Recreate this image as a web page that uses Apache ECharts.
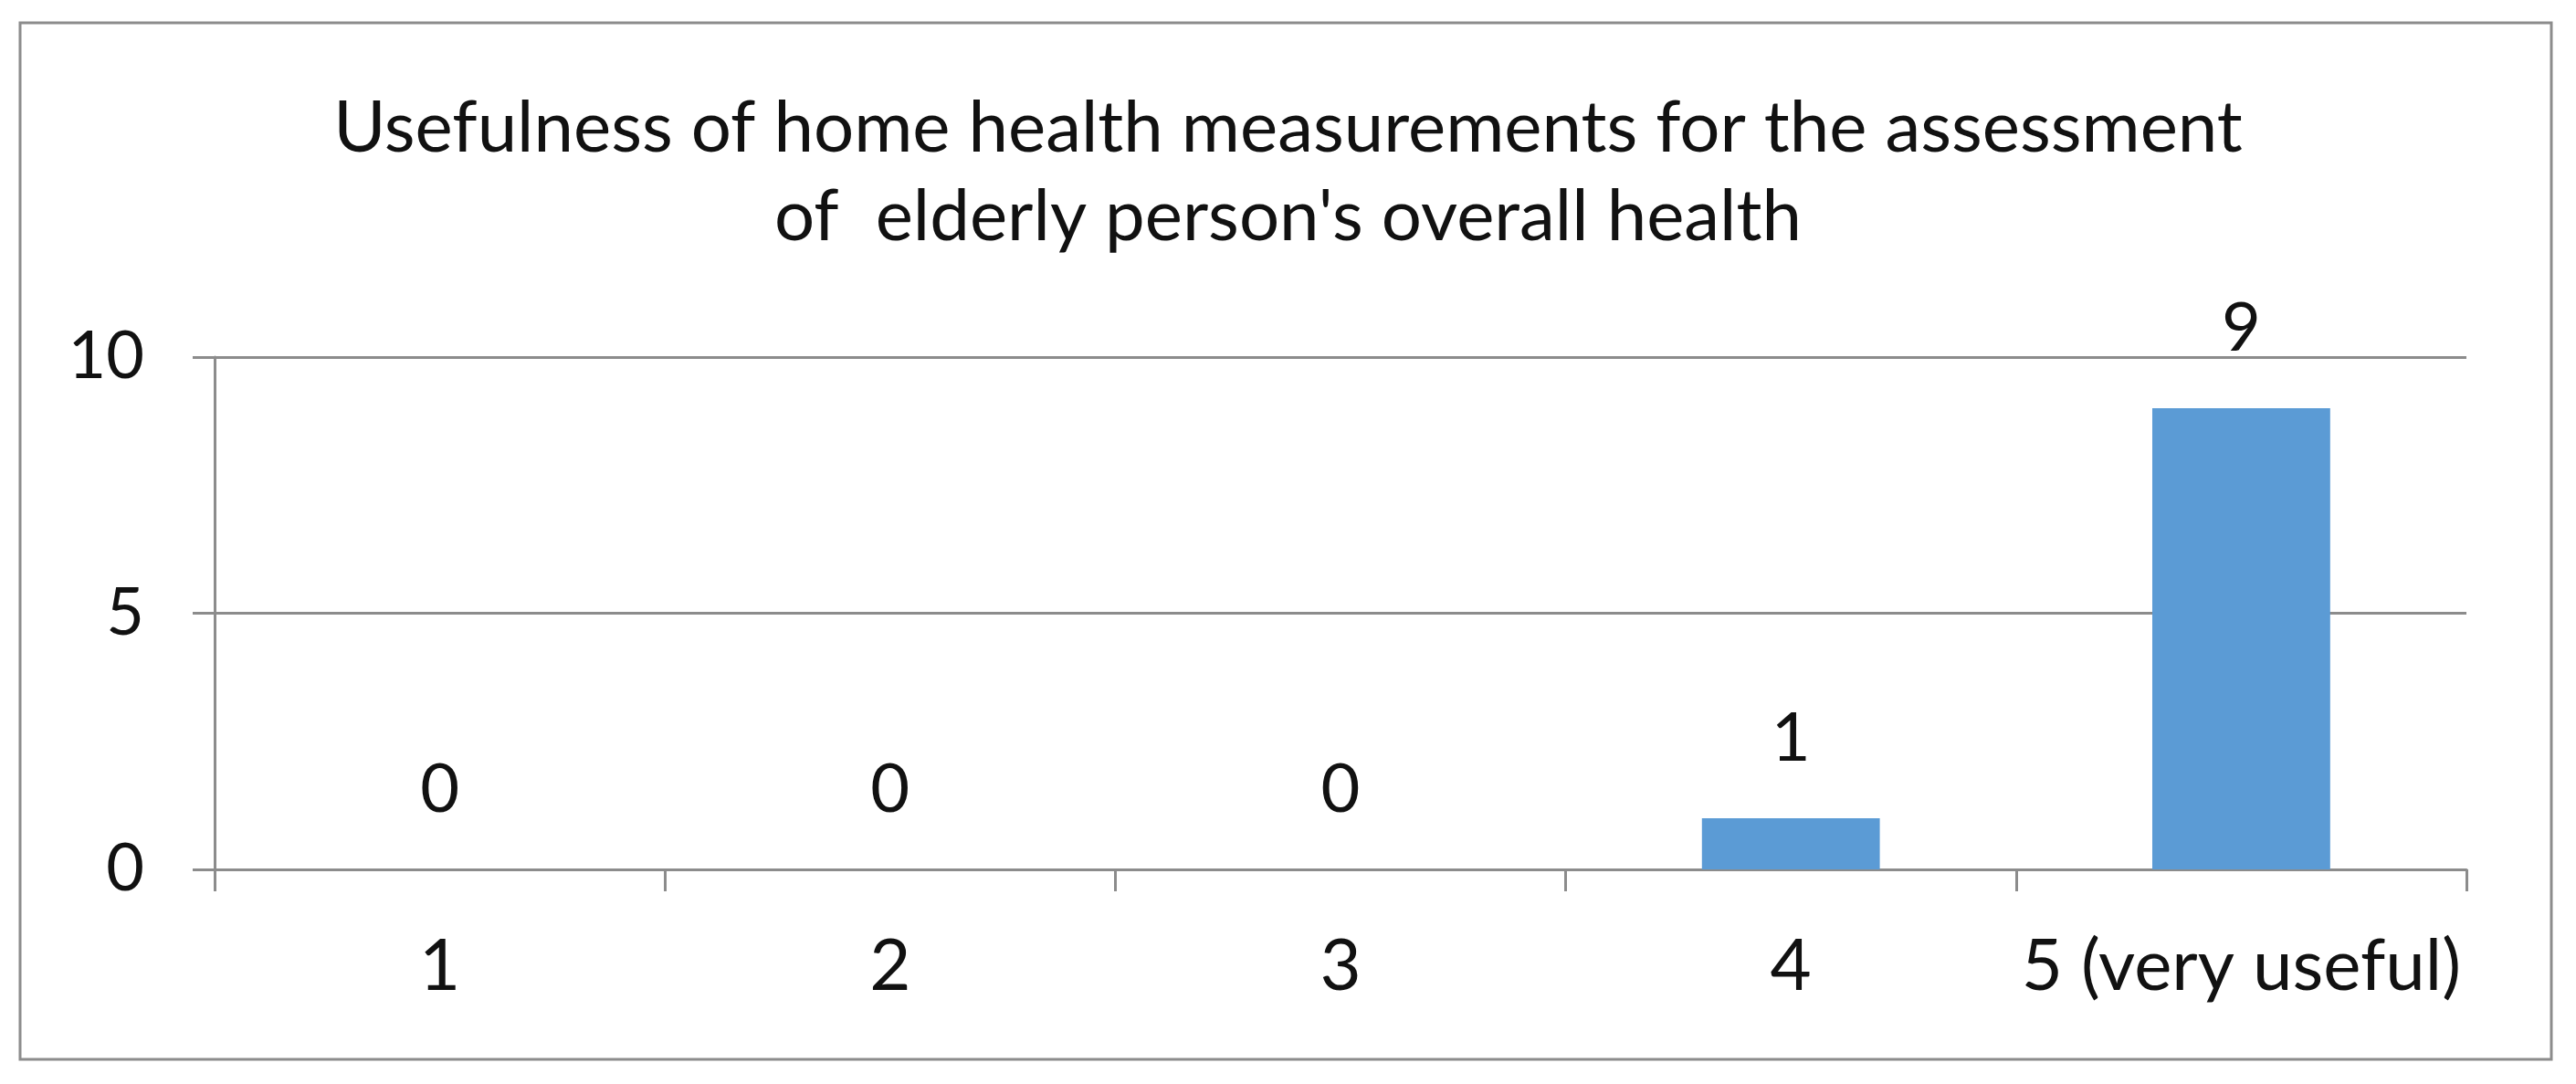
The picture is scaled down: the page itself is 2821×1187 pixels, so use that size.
<!DOCTYPE html>
<html>
<head>
<meta charset="utf-8">
<script src="https://cdn.jsdelivr.net/npm/echarts@6/dist/echarts.min.js"></script>
<style>
html,body{margin:0;padding:0;background:#fff;}
#chart{width:2821px;height:1187px;}
</style>
</head>
<body>
<div id="chart"></div>
<script>
const titleText = "Usefulness of home health measurements for the assessment\nof  elderly person's overall health";
const categories = ['1', '2', '3', '4', '5 (very useful)'];
const counts = [0, 0, 0, 1, 9];
const yTicks = { min: 0, max: 10, interval: 5 };

const FONT = 'Lato';
const chart = echarts.init(document.getElementById('chart'), null, { renderer: 'canvas' });
chart.setOption({
  backgroundColor: '#ffffff',
  animation: false,
  title: {
    text: titleText,
    left: 'center',
    top: 92,
    padding: [0, 16, 0, 0],
    textStyle: { fontFamily: FONT, fontSize: 78, fontWeight: 'normal', color: '#111', lineHeight: 97 }
  },
  graphic: [{
    type: 'rect',
    shape: { x: 22, y: 25, width: 2772, height: 1135 },
    style: { fill: 'none', stroke: '#8c8c8c', lineWidth: 3 },
    silent: true
  }],
  grid: { left: 235, right: 120, top: 391, bottom: 235, containLabel: false },
  xAxis: {
    type: 'category',
    data: categories,
    axisLine: { show: true, lineStyle: { color: '#8c8c8c', width: 3 } },
    axisTick: { show: true, interval: 0, length: 24, alignWithLabel: false, lineStyle: { color: '#8c8c8c', width: 3 } },
    axisLabel: { interval: 0, fontFamily: FONT, fontSize: 78, color: '#111', margin: 68 },
    splitLine: { show: false }
  },
  yAxis: {
    type: 'value',
    min: yTicks.min,
    max: yTicks.max,
    interval: yTicks.interval,
    axisLine: { show: true, lineStyle: { color: '#8c8c8c', width: 3 } },
    axisTick: { show: true, length: 24, lineStyle: { color: '#8c8c8c', width: 3 } },
    axisLabel: { fontFamily: FONT, fontSize: 72, color: '#111', margin: 77 },
    splitLine: { show: true, lineStyle: { color: '#8c8c8c', width: 3 } }
  },
  series: [{
    type: 'bar',
    data: counts,
    barWidth: '39.5%',
    itemStyle: { color: '#5b9bd5' },
    label: { show: true, position: 'top', distance: 50, fontFamily: FONT, fontSize: 74, color: '#111' }
  }]
});
</script>
</body>
</html>
